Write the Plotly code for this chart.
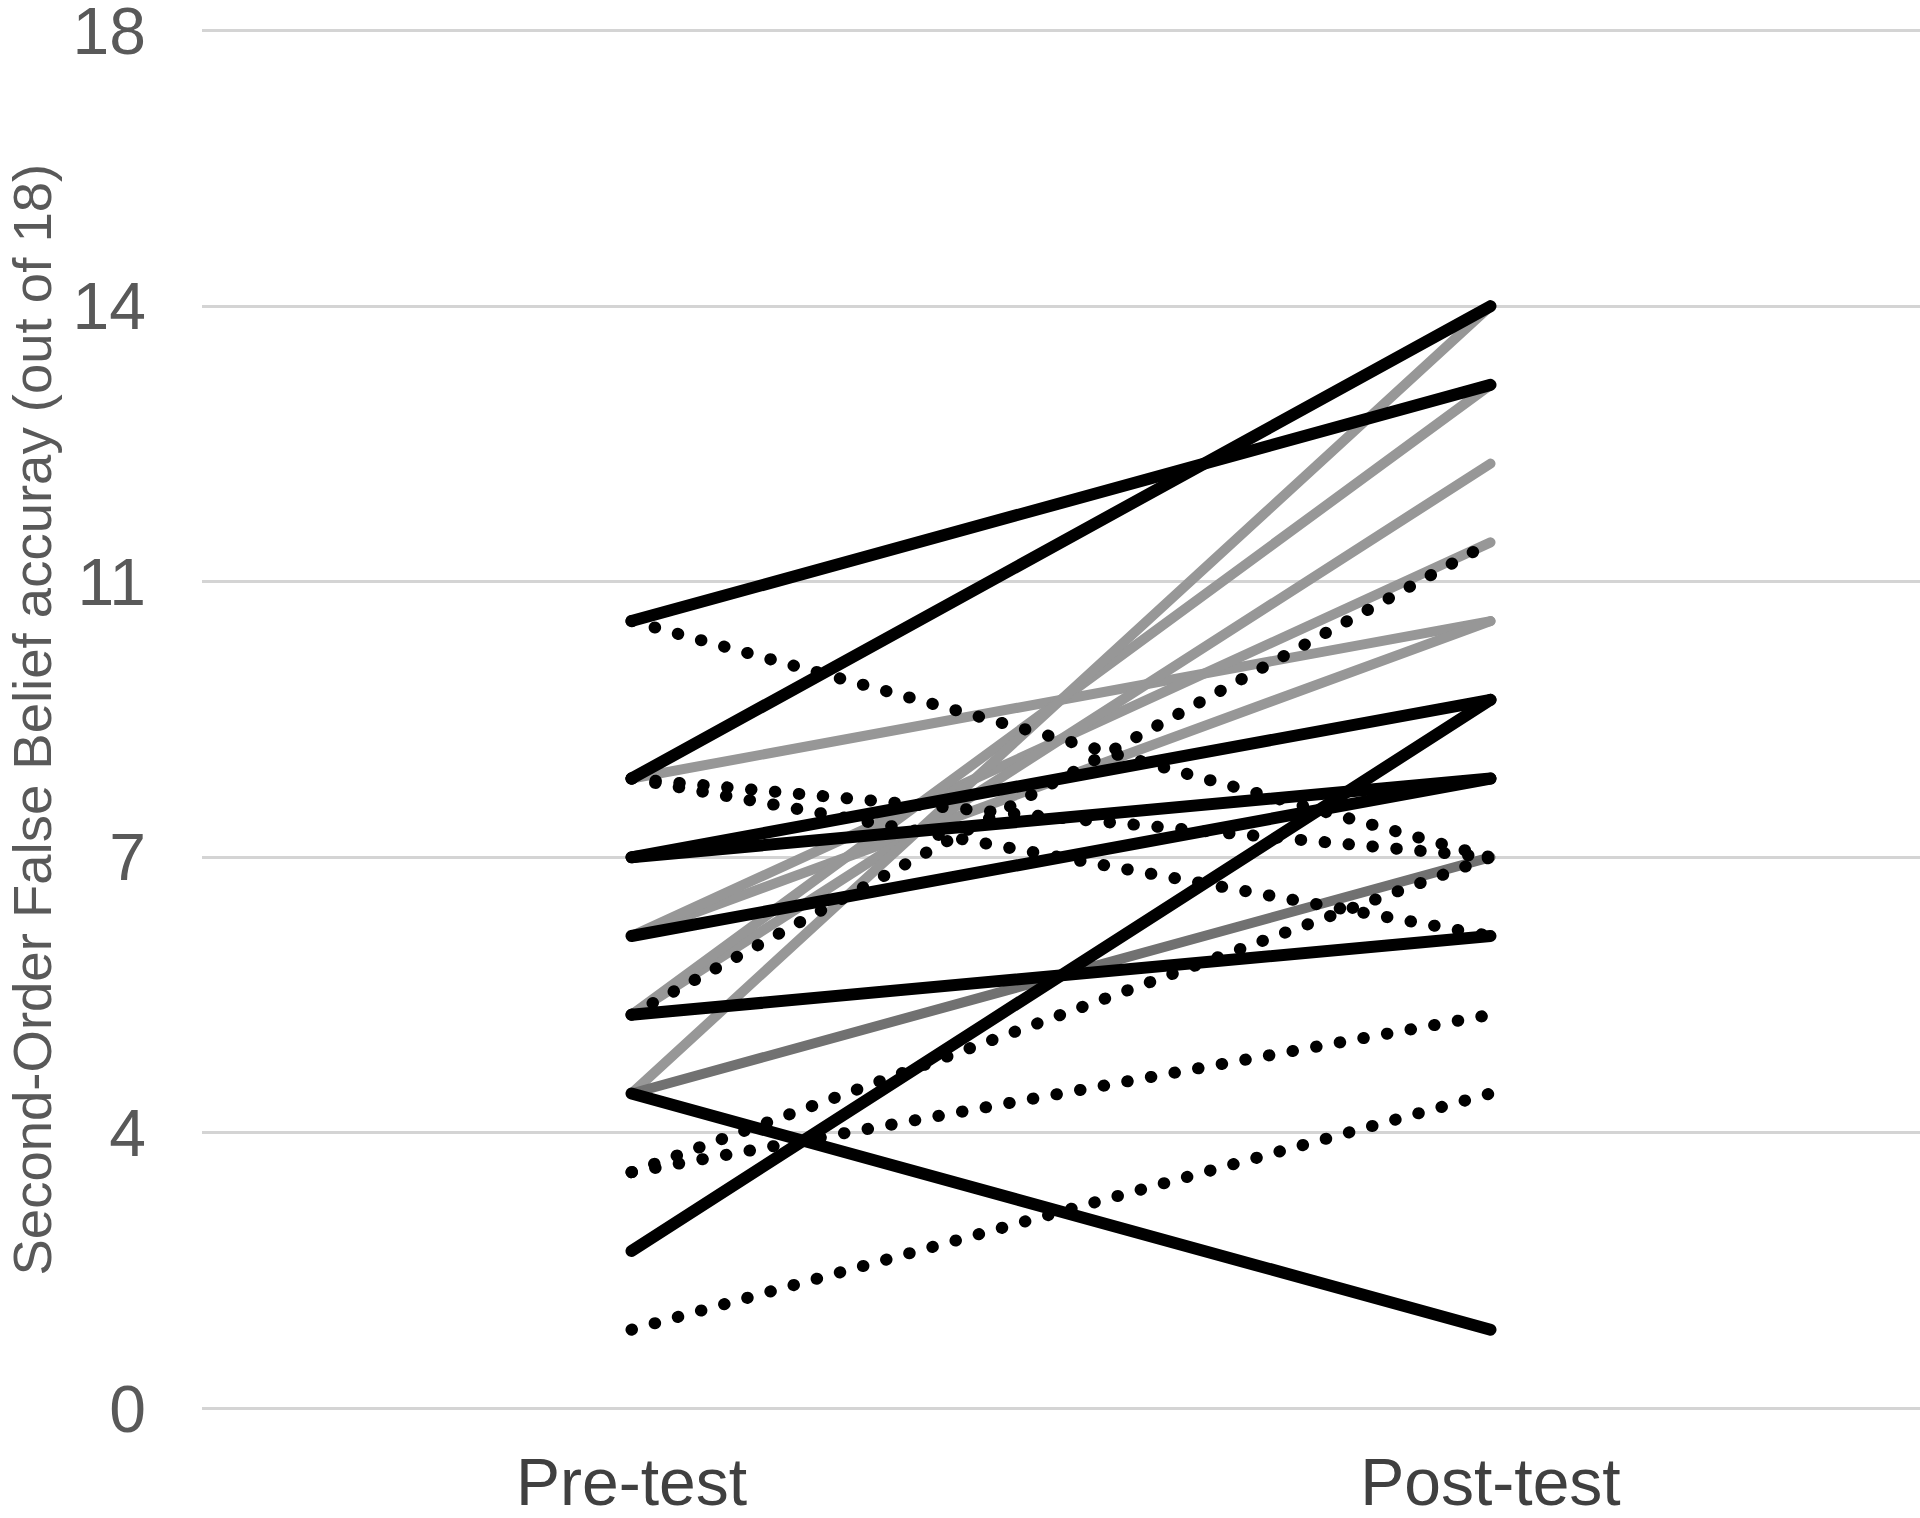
import plotly.graph_objects as go

categories = ["Pre-test", "Post-test"]

# Solid black participants (pre, post)
black_pre = [10, 8, 7, 7, 6, 5, 4, 2]
black_post = [13, 14, 9, 8, 8, 6, 1, 9]

# Dotted black participants
dotted_pre = [10, 8, 8, 5, 3, 3, 1]
dotted_post = [7, 7, 6, 11, 7, 5, 4]

# Light grey participants
grey_pre = [8, 6, 6, 5, 5, 4]
grey_post = [10, 10, 11, 12, 13, 14]

# Dark grey participant
darkgrey_pre = [4]
darkgrey_post = [7]

y_tickvals = [0, 3.5, 7, 10.5, 14, 17.5]
y_ticktext = ["0", "4", "7", "11", "14", "18"]
y_title = "Second-Order False Belief accuray (out of 18)"

fig = go.Figure()


def add_group(pre, post, color, width, dash):
    for a, b in zip(pre, post):
        fig.add_trace(go.Scatter(
            x=categories, y=[a, b], mode="lines",
            line=dict(color=color, width=width, dash=dash),
            showlegend=False, hoverinfo="skip",
        ))


add_group(grey_pre, grey_post, "#979797", 10, "solid")
add_group(darkgrey_pre, darkgrey_post, "#717171", 10, "solid")
add_group(dotted_pre, dotted_post, "#000000", 12, "0.5px,23.5px")
add_group(black_pre, black_post, "#000000", 12, "solid")

W, H = 1920, 1518
# y range padded slightly so the 0 and 17.5 gridlines are drawn
YMIN, YMAX = -0.02, 17.52
PX_PER_UNIT = (1408 - 31) / 17.5
T = int(round(31 - (YMAX - 17.5) * PX_PER_UNIT))
B = int(round(H - (1408 + (0 - YMIN) * PX_PER_UNIT)))
L, R = 202, 0

fig.update_layout(
    width=W, height=H,
    margin=dict(l=L, r=R, t=T, b=B, pad=0, autoexpand=False),
    paper_bgcolor="white", plot_bgcolor="white",
    font=dict(family="Liberation Sans, Arial, sans-serif", color="#595959"),
    xaxis=dict(
        type="category", range=[-0.5, 1.5], automargin=False,
        showgrid=False, zeroline=False, showline=False,
        ticks="", tickfont=dict(size=66, color="#404040"),
        ticklabelstandoff=28,
    ),
    yaxis=dict(
        range=[YMIN, YMAX], tickmode="array", automargin=False,
        tickvals=y_tickvals, ticktext=y_ticktext,
        showgrid=True, gridcolor="#d4d4d4", gridwidth=3,
        zeroline=False, showline=False, ticks="",
        tickfont=dict(size=66, color="#595959"),
        ticklabelstandoff=55, ticklabeloverflow="allow",
    ),
    annotations=[dict(
        text=y_title, xref="paper", yref="paper",
        x=(32 - L) / (W - L - R), y=0.500,
        xanchor="center", yanchor="middle", textangle=-90,
        showarrow=False, font=dict(size=54.5, color="#595959"),
    )],
)

post_script = """
(function(){
  document.body.style.margin = '0';
  document.body.style.padding = '0';
  document.documentElement.style.margin = '0';
  function fix(){
    document.querySelectorAll('.scatterlayer .js-line').forEach(function(p){
      p.style.strokeLinecap = 'round';
      p.style.strokeLinejoin = 'round';
    });
  }
  fix();
  setTimeout(fix, 50);
})();
"""

fig.write_html("out.html", post_script=post_script,
               config={"displayModeBar": False, "staticPlot": True})
